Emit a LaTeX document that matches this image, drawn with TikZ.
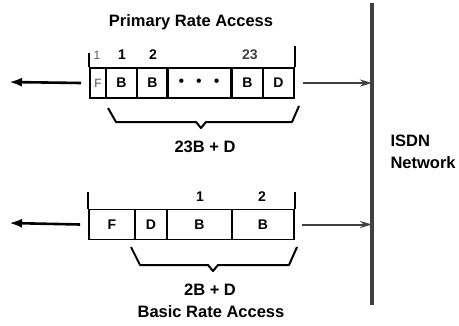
\documentclass[tikz,border=0pt]{standalone}
\usepackage{fontspec}
\setmainfont{Liberation Sans}
\usetikzlibrary{arrows.meta}

\begin{document}
\begin{tikzpicture}[x=1pt, y=-1pt,
  every node/.style={font=\fontsize{14}{16}\selectfont\bfseries},
  big/.style={font=\fontsize{16.5}{22}\selectfont\bfseries},
  cell/.style={draw, line width=1.8pt, minimum height=30pt, inner sep=0pt},
  frame/.style={line width=2pt},
  outarrow/.style={-{Latex[length=13pt,width=9pt]}, line width=2.6pt},
  inarrow/.style={-{Stealth[length=12pt,width=7pt]}, line width=2pt, black!75}]

  \useasboundingbox (0,0) rectangle (459,325);

  % ========== ISDN network side ==========
  \coordinate (netTop) at (372,3);
  \coordinate (netBot) at (372,305);
  \draw[line width=3.2pt, black!75] (netTop) -- (netBot);
  \node[big, anchor=west, align=left] (isdn) at (387,152) {ISDN\\Network};

  % ========== Primary rate access frame ==========
  \node[big] (priTitle) at (191,22) {Primary Rate Access};

  % cells
  \node[cell, minimum width=16pt, text=black!70, font=\fontsize{12}{14}\selectfont] (pF) at (98,83) {F};
  \node[cell, minimum width=31pt] (pB1) at (121.5,83) {B};
  \node[cell, minimum width=31pt] (pB2) at (152.5,83) {B};
  \node[cell, minimum width=64pt, font=\fontsize{16}{18}\selectfont] (pDots) at (199,83) {\textbullet\hspace{12pt}\textbullet\hspace{12pt}\textbullet};
  \node[cell, minimum width=31pt] (pB23) at (247.5,83) {B};
  \node[cell, minimum width=31pt] (pD) at (278.5,83) {D};

  % channel numbers
  \node[text=black!65, font=\fontsize{12}{14}\selectfont] (pn0) at (97,55) {1};
  \node (pn1) at (122,55) {1};
  \node (pn2) at (153,55) {2};
  \node[text=black!75] (pn23) at (250,55) {23};

  % frame ticks
  \draw[frame] (pF.north west) -- ++(0,-14);
  \draw[frame] (pD.north east) -- ++(0,-21);

  % arrows
  \coordinate (pOut) at (9,82);
  \draw[outarrow] ([xshift=-8pt]pF.west) -- (pOut);
  \draw[inarrow] ([xshift=8pt]pD.east) -- (pD.east -| netTop);

  % bracket
  \draw[frame, line join=round] (108,108) -- (116,122) -- (196,122) -- (201,128) -- (206,122) -- (292,122) -- (299,106);
  \node[big] (priSum) at (205,147) {23B + D};

  % ========== Basic rate access frame ==========
  % cells
  \node[cell, minimum width=46pt] (bF) at (112,224.5) {F};
  \node[cell, minimum width=32pt] (bD) at (151,224.5) {D};
  \node[cell, minimum width=65pt] (bB1) at (199.5,224.5) {B};
  \node[cell, minimum width=62pt] (bB2) at (263,224.5) {B};

  % channel numbers
  \node (bn1) at (200,197) {1};
  \node (bn2) at (262,197) {2};

  % frame ticks
  \draw[frame] (bF.north west) -- ++(0,-17);
  \draw[frame] (bB2.north east) -- ++(0,-17);

  % arrows
  \coordinate (bOut) at (9,223);
  \draw[outarrow] ([xshift=-8pt]bF.west) -- (bOut);
  \draw[inarrow] ([xshift=7pt]bB2.east) -- (bB2.east -| netTop);

  % bracket
  \draw[frame, line join=round] (131,247) -- (140,265) -- (208,265) -- (213,271) -- (218,265) -- (289,265) -- (297,247);
  \node[big] (basSum) at (210,290) {2B + D};
  \node[big] (basTitle) at (211,312) {Basic Rate Access};

\end{tikzpicture}
\end{document}
